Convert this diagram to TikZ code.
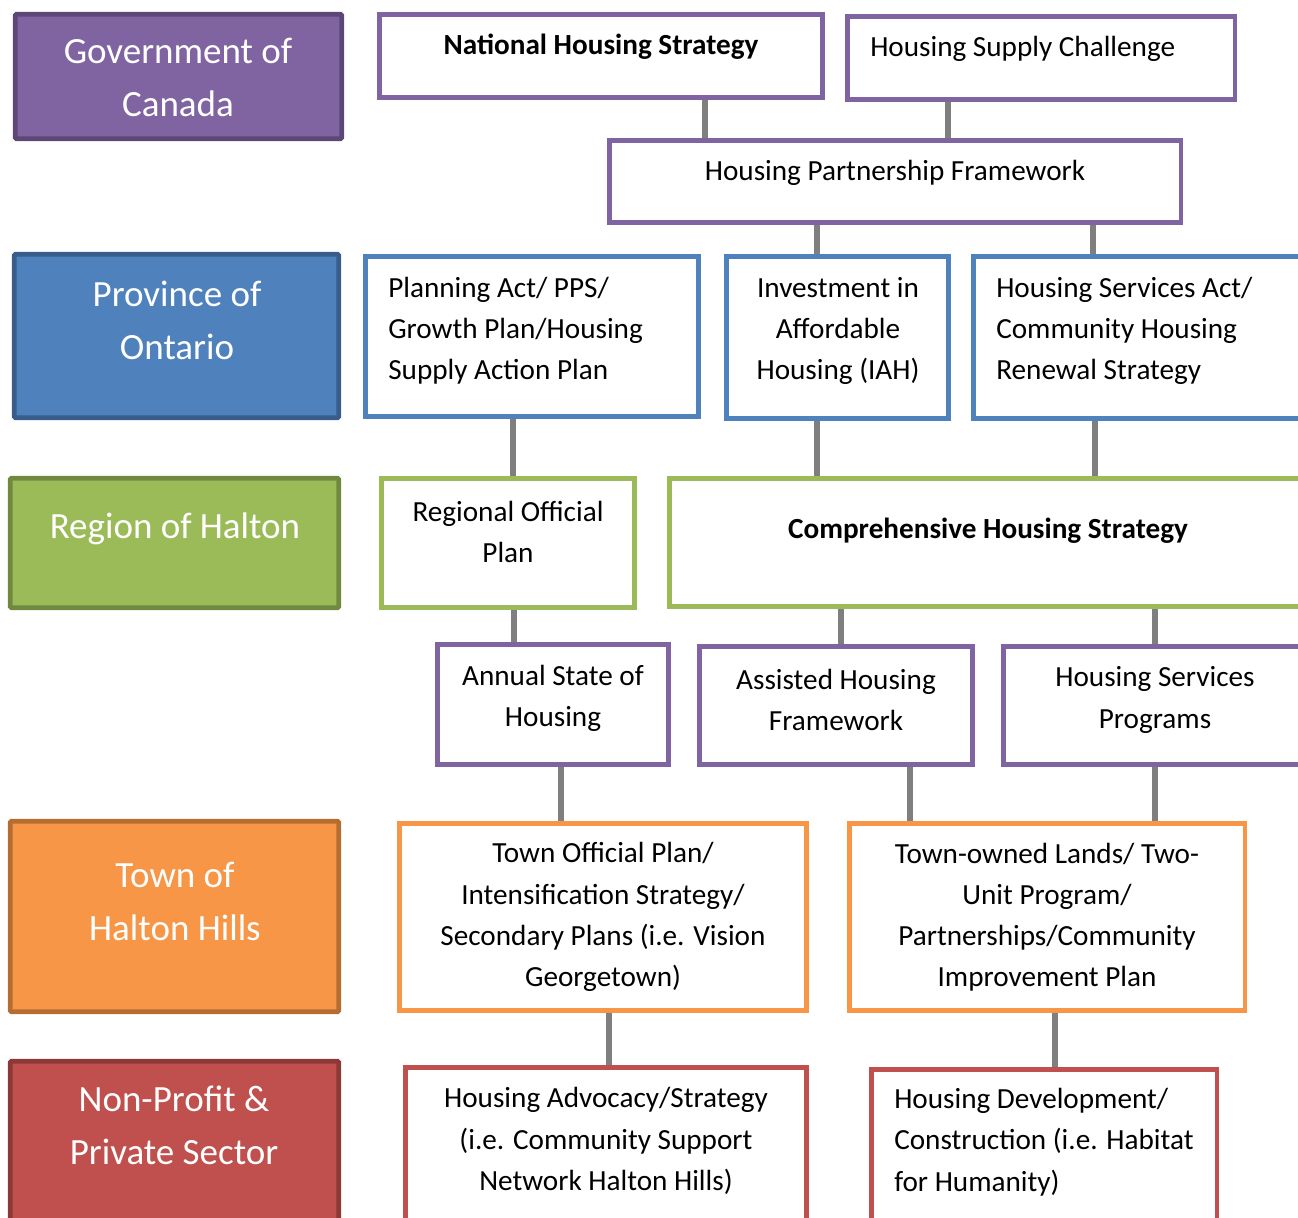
\documentclass[tikz,border=0pt]{standalone}
\usepackage{fontspec}
\setmainfont{Carlito}
\usetikzlibrary{backgrounds}
\definecolor{pur}{HTML}{8064A2}\definecolor{purD}{HTML}{5C4776}
\definecolor{blu}{HTML}{4F81BD}\definecolor{bluD}{HTML}{385D8A}
\definecolor{grn}{HTML}{9BBB59}\definecolor{grnD}{HTML}{71893F}
\definecolor{org}{HTML}{F79646}\definecolor{orgD}{HTML}{B66D31}
\definecolor{red1}{HTML}{C0504D}\definecolor{redD}{HTML}{8C3836}
\definecolor{conn}{HTML}{7F7F7F}
\newcommand\bx[6]{\node[#2, minimum width={(#5-#3-4.5)*0.75pt}, minimum height={(#6-#4-4.5)*0.75pt}] (#1) at ({(#3+#5)/2},{(#4+#6)/2}) {};}
\tikzset{
  box/.style={rectangle, inner sep=0pt, outer sep=0pt, line width=3.4pt},
  lvl/.style={box, line width=3.6pt, rounded corners=1pt},
  wbox/.style={box, fill=white, draw=#1},
  txt/.style={inner sep=0pt, align=center, font=\fontsize{21.9}{30.9}\selectfont},
  ltxt/.style={inner sep=0pt, align=left, anchor=west, font=\fontsize{21.9}{30.9}\selectfont},
  lvltxt/.style={inner sep=0pt, align=center, text=white, font=\fontsize{27.75}{39.6}\selectfont},
  cn/.style={draw=conn, line width=4.5pt},
}
\begin{document}
\begin{tikzpicture}[x=0.75pt,y=-0.75pt]
\useasboundingbox (0,0) rectangle (1298,1217);
\clip (0,0) rectangle (1298,1217);
% level boxes
\bx{gov}{lvl, fill=pur, draw=purD}{13}{12}{344}{141}
\bx{prov}{lvl, fill=blu, draw=bluD}{12}{252}{341}{420}
\bx{reg}{lvl, fill=grn, draw=grnD}{8}{476}{341}{610}
\bx{town}{lvl, fill=org, draw=orgD}{8}{819}{341}{1014}
\bx{np}{lvl, fill=red1, draw=redD}{8}{1059}{341}{1240}
\node[lvltxt] (govt) at (178,77.5) {Government of\\Canada};
\node[lvltxt] (provt) at (177,320.5) {Province of\\Ontario};
\node[lvltxt] (regt) at (175,528.5) {Region of Halton};
\node[lvltxt] (townt) at (175,901.5) {Town of\\Halton Hills};
\node[lvltxt] (npt) at (174,1125.5) {Non-Profit \&\\Private Sector};
% white boxes
\bx{nhs}{wbox=pur}{377}{12}{825}{100}
\bx{hsc}{wbox=pur}{845}{14}{1237}{102}
\bx{hpf}{wbox=pur}{607}{138}{1183}{225}
\bx{pa}{wbox=blu}{363}{254}{701}{419}
\bx{iah}{wbox=blu}{724}{254}{951}{421}
\bx{hsa}{wbox=blu}{971}{254}{1320}{421}
\bx{rop}{wbox=grn}{379}{476}{637}{610}
\bx{chs}{wbox=grn}{667}{476}{1320}{609}
\bx{asoh}{wbox=pur}{435}{642}{671}{767}
\bx{ahf}{wbox=pur}{697}{644}{975}{767}
\bx{hsp}{wbox=pur}{1001}{644}{1320}{767}
\bx{top}{wbox=org}{397}{821}{809}{1013}
\bx{tol}{wbox=org}{847}{821}{1247}{1013}
\bx{hadv}{wbox=red1}{403}{1065}{809}{1240}
\bx{hdev}{wbox=red1}{869}{1067}{1219}{1240}
% connectors
\begin{scope}[on background layer]
\draw[cn] (nhs.south -| 705,0) -- (hpf.north -| 705,0);
\draw[cn] (hsc.south -| 948,0) -- (hpf.north -| 948,0);
\draw[cn] (hpf.south -| 817,0) -- (iah.north -| 817,0);
\draw[cn] (hpf.south -| 1093,0) -- (hsa.north -| 1093,0);
\draw[cn] (pa.south -| 513,0) -- (rop.north -| 513,0);
\draw[cn] (iah.south -| 817,0) -- (chs.north -| 817,0);
\draw[cn] (hsa.south -| 1095,0) -- (chs.north -| 1095,0);
\draw[cn] (rop.south -| 514,0) -- (asoh.north -| 514,0);
\draw[cn] (chs.south -| 841,0) -- (ahf.north -| 841,0);
\draw[cn] (chs.south -| 1155,0) -- (hsp.north -| 1155,0);
\draw[cn] (asoh.south -| 561,0) -- (top.north -| 561,0);
\draw[cn] (ahf.south -| 910,0) -- (tol.north -| 910,0);
\draw[cn] (hsp.south -| 1155,0) -- (tol.north -| 1155,0);
\draw[cn] (top.south -| 609,0) -- (hadv.north -| 609,0);
\draw[cn] (tol.south -| 1055,0) -- (hdev.north -| 1055,0);
\end{scope}
% texts
\node[txt, font=\fontsize{21.9}{30.9}\selectfont\bfseries] (nhst) at (601,47) {National Housing Strategy};
\node[ltxt] (hsct) at (870,49) {Housing Supply Challenge};
\node[txt] (hpft) at (895,173) {Housing Partnership Framework};
\node[ltxt] (pat) at (388,331) {Planning Act/ PPS/\\Growth Plan/Housing\\Supply Action Plan};
\node[txt] (iaht) at (838,331) {Investment in\\Affordable\\Housing (IAH)};
\node[ltxt] (hsat) at (996,331) {Housing Services Act/\\Community Housing\\Renewal Strategy};
\node[txt] (ropt) at (508,532) {Regional Official\\Plan};
\node[txt, font=\fontsize{21.9}{30.9}\selectfont\bfseries] (chst) at (988,531) {Comprehensive Housing Strategy};
\node[txt] (asoht) at (553,698) {Annual State of\\Housing};
\node[txt] (ahft) at (836,700) {Assisted Housing\\Framework};
\node[txt] (hspt) at (1155,700) {Housing Services\\Programs};
\node[txt] (topt) at (603,917) {Town Official Plan/\\Intensification Strategy/\\Secondary Plans (i.e. Vision\\Georgetown)};
\node[txt] (tolt) at (1047,917) {Town-owned Lands/ Two-\\Unit Program/\\Partnerships/Community\\Improvement Plan};
\node[txt] (hadvt) at (606,1141) {Housing Advocacy/Strategy\\(i.e. Community Support\\Network Halton Hills)};
\node[ltxt] (hdevt) at (894,1142) {Housing Development/\\Construction (i.e. Habitat\\for Humanity)};
\end{tikzpicture}
\end{document}
